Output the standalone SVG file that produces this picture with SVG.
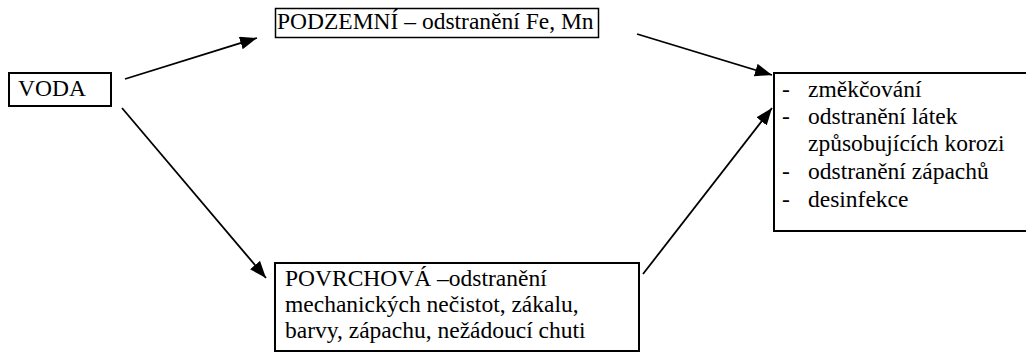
<svg xmlns="http://www.w3.org/2000/svg" width="1026" height="354" viewBox="0 0 1026 354" font-family="Liberation Serif, Times New Roman, serif" font-size="23.5">
<style>
.box{fill:#fff;stroke:#000}
.conn line{stroke:#000;stroke-width:1.8}
</style>
<defs>
<marker id="ah" markerUnits="userSpaceOnUse" markerWidth="18" markerHeight="14" refX="17" refY="6.5" orient="auto">
<path d="M0,0 L17,6.5 L0,13 Z" fill="#000"/>
</marker>
</defs>
<rect width="1026" height="354" fill="#fff"/>
<g id="voda">
<rect class="box" x="9" y="73" width="102" height="33" stroke-width="2"/>
<text x="18" y="96">VODA</text>
</g>
<g id="podzemni">
<rect class="box" x="275.5" y="8.5" width="323" height="29" stroke-width="1.5"/>
<text x="277" y="29">PODZEMNÍ – odstranění Fe, Mn</text>
</g>
<g id="povrchova">
<rect class="box" x="275" y="263" width="364" height="88" stroke-width="2"/>
<text x="285" y="286">POVRCHOVÁ –odstranění</text>
<text x="285" y="312">mechanických nečistot, zákalu,</text>
<text x="285" y="338">barvy, zápachu, nežádoucí chuti</text>
</g>
<g id="vysledek">
<rect class="box" x="774" y="73" width="260" height="158" stroke-width="2"/>
<text x="782" y="97">-</text><text x="808" y="97">změkčování</text>
<text x="782" y="124">-</text><text x="808" y="124">odstranění látek</text>
<text x="808" y="151">způsobujících korozi</text>
<text x="782" y="179">-</text><text x="808" y="179">odstranění zápachů</text>
<text x="782" y="207">-</text><text x="808" y="207">desinfekce</text>
</g>
<g class="conn" id="connectors">
<line x1="125" y1="79" x2="257" y2="38" marker-end="url(#ah)"/>
<line x1="637" y1="34" x2="772" y2="75" marker-end="url(#ah)"/>
<line x1="122" y1="108" x2="266" y2="278" marker-end="url(#ah)"/>
<line x1="643" y1="274" x2="772" y2="108" marker-end="url(#ah)"/>
</g>
</svg>
